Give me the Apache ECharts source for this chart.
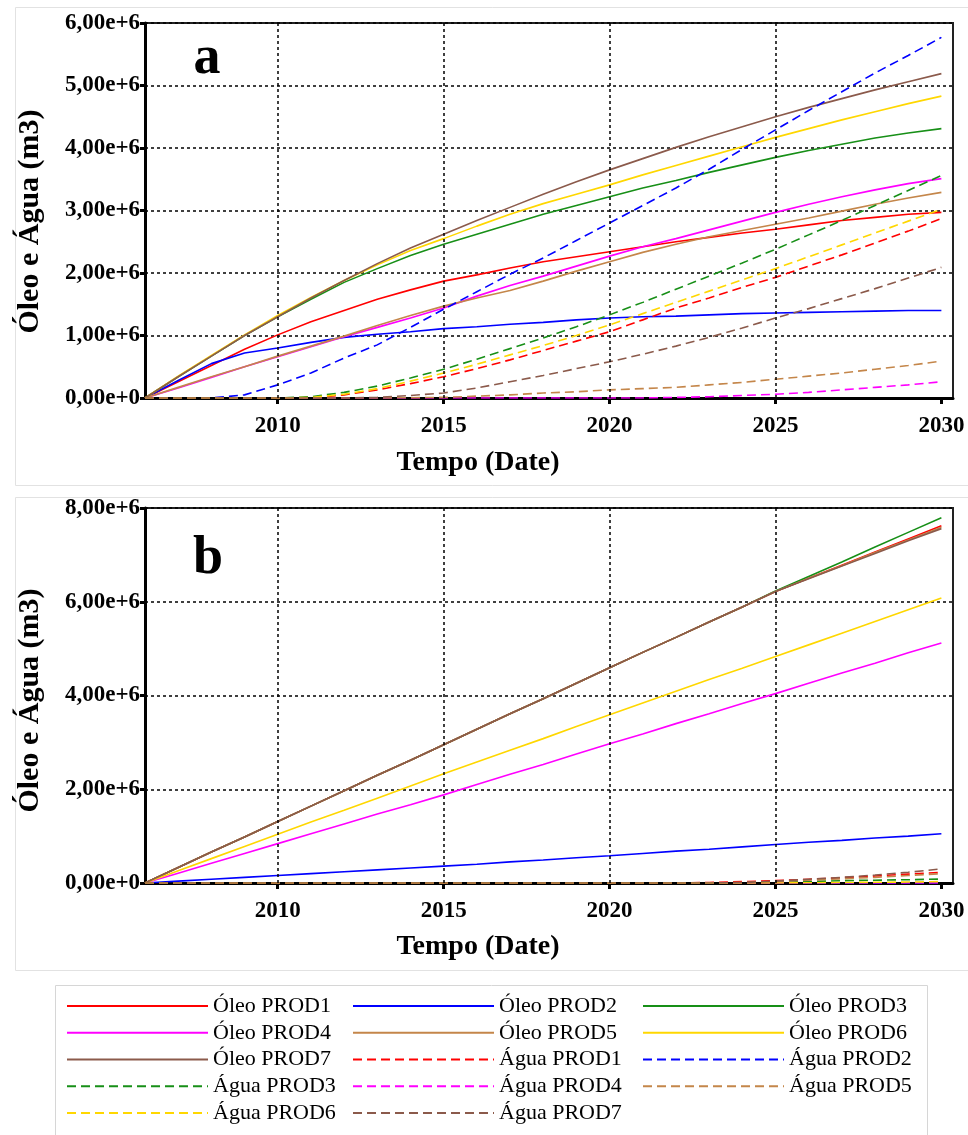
<!DOCTYPE html>
<html><head><meta charset="utf-8">
<script src="https://cdn.jsdelivr.net/npm/echarts@6/dist/echarts.min.js"></script>
<style>html,body{margin:0;padding:0;background:#fff}#c{width:968px;height:1135px}</style>
</head><body><div id="c"></div>
<script>
// ---- data (values in millions of m3) ----
const years = [2006,2007,2008,2009,2010,2011,2012,2013,2014,2015,2016,2017,2018,2019,2020,2021,2022,2023,2024,2025,2026,2027,2028,2029,2030];
const xTickValues = [2010,2015,2020,2025,2030];
const xGridValues = [2010,2015,2020,2025];
const names = ['Óleo PROD1','Óleo PROD2','Óleo PROD3','Óleo PROD4','Óleo PROD5','Óleo PROD6','Óleo PROD7',
               'Água PROD1','Água PROD2','Água PROD3','Água PROD4','Água PROD5','Água PROD6','Água PROD7'];
const colors = ['#ff0000','#0000ff','#178f17','#ff00ff','#c4864a','#ffd700','#8b5a4b'];

// Panel a
const oleoA1 = [0,0.26,0.52,0.78,1.01,1.22,1.40,1.58,1.73,1.87,1.97,2.08,2.18,2.26,2.34,2.42,2.50,2.57,2.64,2.70,2.77,2.84,2.89,2.94,2.97];
const oleoA2 = [0,0.28,0.55,0.72,0.80,0.89,0.97,1.02,1.06,1.11,1.14,1.18,1.21,1.25,1.28,1.30,1.31,1.33,1.35,1.36,1.37,1.38,1.39,1.40,1.40];
const oleoA3 = [0,0.34,0.67,1.00,1.30,1.58,1.85,2.07,2.28,2.46,2.62,2.78,2.94,3.08,3.22,3.36,3.48,3.61,3.73,3.85,3.96,4.06,4.16,4.24,4.31];
const oleoA4 = [0,0.16,0.33,0.50,0.66,0.82,0.98,1.13,1.28,1.44,1.63,1.80,1.95,2.11,2.27,2.42,2.55,2.69,2.83,2.97,3.10,3.22,3.33,3.43,3.51];
const oleoA5 = [0,0.17,0.34,0.50,0.67,0.83,0.99,1.16,1.32,1.47,1.60,1.72,1.87,2.03,2.18,2.33,2.46,2.58,2.68,2.78,2.88,2.99,3.10,3.20,3.29];
const oleoA6 = [0,0.35,0.68,1.01,1.32,1.61,1.88,2.13,2.36,2.55,2.75,2.94,3.11,3.26,3.41,3.57,3.72,3.87,4.02,4.17,4.31,4.45,4.58,4.71,4.83];
const oleoA7 = [0,0.34,0.67,1.00,1.30,1.60,1.88,2.15,2.40,2.62,2.84,3.05,3.26,3.46,3.65,3.83,4.01,4.18,4.34,4.50,4.65,4.79,4.93,5.06,5.19];
const aguaA1 = [0,0,0,0,0,0,0.05,0.13,0.23,0.34,0.47,0.61,0.76,0.91,1.06,1.25,1.44,1.60,1.77,1.93,2.11,2.29,2.48,2.67,2.87];
const aguaA2 = [0,0,0,0.05,0.21,0.40,0.64,0.85,1.13,1.42,1.70,1.98,2.24,2.52,2.80,3.08,3.36,3.66,3.98,4.29,4.60,4.90,5.20,5.48,5.77];
const aguaA3 = [0,0,0,0,0,0.02,0.09,0.19,0.32,0.46,0.62,0.79,0.96,1.14,1.33,1.53,1.74,1.95,2.16,2.38,2.61,2.84,3.08,3.32,3.56];
const aguaA4 = [0,0,0,0,0,0,0,0,0,0,0,0,0,0,0,0,0.01,0.02,0.04,0.06,0.09,0.13,0.17,0.21,0.26];
const aguaA5 = [0,0,0,0,0,0,0,0,0.005,0.01,0.03,0.05,0.08,0.10,0.13,0.15,0.17,0.21,0.25,0.30,0.35,0.40,0.46,0.52,0.59];
const aguaA6 = [0,0,0,0,0,0.01,0.06,0.15,0.27,0.40,0.54,0.69,0.84,1.00,1.17,1.35,1.53,1.71,1.89,2.07,2.26,2.45,2.64,2.83,3.02];
const aguaA7 = [0,0,0,0,0,0,0,0.01,0.04,0.08,0.16,0.26,0.36,0.47,0.58,0.70,0.83,0.97,1.12,1.28,1.43,1.59,1.75,1.92,2.09];

// Panel b
const oleoB1 = [0,0.33,0.66,0.98,1.31,1.64,1.97,2.30,2.62,2.95,3.28,3.61,3.93,4.26,4.59,4.92,5.24,5.57,5.89,6.22,6.50,6.78,7.06,7.34,7.62];
const oleoB2 = [0,0.04,0.08,0.12,0.16,0.20,0.24,0.28,0.32,0.36,0.40,0.45,0.49,0.54,0.58,0.63,0.68,0.72,0.77,0.82,0.87,0.91,0.96,1.00,1.05];
const oleoB3 = [0,0.33,0.66,0.98,1.31,1.64,1.97,2.30,2.62,2.95,3.28,3.61,3.93,4.26,4.59,4.92,5.24,5.57,5.89,6.23,6.54,6.85,7.17,7.48,7.79];
const oleoB4 = [0,0.21,0.42,0.63,0.84,1.05,1.26,1.47,1.67,1.88,2.10,2.32,2.53,2.75,2.97,3.18,3.40,3.61,3.83,4.04,4.26,4.48,4.69,4.91,5.12];
const oleoB5 = [0,0.33,0.66,0.98,1.31,1.64,1.97,2.30,2.62,2.95,3.28,3.61,3.93,4.26,4.59,4.92,5.24,5.57,5.89,6.22,6.50,6.77,7.05,7.32,7.59];
const oleoB6 = [0,0.26,0.52,0.78,1.04,1.30,1.55,1.81,2.07,2.33,2.58,2.83,3.08,3.34,3.59,3.84,4.09,4.34,4.58,4.83,5.08,5.33,5.58,5.83,6.08];
const oleoB7 = [0,0.33,0.66,0.98,1.31,1.64,1.97,2.30,2.62,2.95,3.28,3.61,3.93,4.26,4.59,4.92,5.24,5.57,5.89,6.22,6.49,6.76,7.03,7.30,7.56];
const aguaB1 = [0,0,0,0,0,0,0,0,0,0,0,0,0,0,0,0,0,0.01,0.03,0.05,0.08,0.11,0.15,0.19,0.23];
const aguaB2 = [0,0,0,0,0,0,0,0,0,0,0,0,0,0,0,0,0,0,0,0,0,0,0,0,0];
const aguaB3 = [0,0,0,0,0,0,0,0,0,0,0,0,0,0,0,0,0,0,0,0.01,0.03,0.05,0.06,0.07,0.085];
const aguaB4 = [0,0,0,0,0,0,0,0,0,0,0,0,0,0,0,0,0,0,0,0,0,0,0,0,0];
const aguaB5 = [0,0,0,0,0,0,0,0,0,0,0,0,0,0,0,0,0,0,0.01,0.03,0.06,0.09,0.12,0.16,0.20];
const aguaB6 = [0,0,0,0,0,0,0,0,0,0,0,0,0,0,0,0,0,0,0,0,0.005,0.01,0.015,0.02,0.03];
const aguaB7 = [0,0,0,0,0,0,0,0,0,0,0,0,0,0,0,0,0,0,0.01,0.04,0.08,0.12,0.17,0.23,0.30];

const panelA = [oleoA1,oleoA2,oleoA3,oleoA4,oleoA5,oleoA6,oleoA7,aguaA1,aguaA2,aguaA3,aguaA4,aguaA5,aguaA6,aguaA7];
const panelB = [oleoB1,oleoB2,oleoB3,oleoB4,oleoB5,oleoB6,oleoB7,aguaB1,aguaB2,aguaB3,aguaB4,aguaB5,aguaB6,aguaB7];
const UNIT = 1e6;

// ---- styles ----
const SERIF = '"Liberation Serif", "Times New Roman", serif';
const gridStyle = {type:[3,3], color:'#000', width:1.5};
function yFmt(v){ return v === 0 ? '0,00e+0' : (v/UNIT).toFixed(2).replace('.', ',') + 'e+6'; }

function makeSeries(panel, gi){
  return panel.map((arr, k) => {
    const s = {
      type:'line', name: names[k], xAxisIndex: gi, yAxisIndex: gi,
      data: years.map((y,i) => [y, arr[i]*UNIT]),
      symbol:'none', showSymbol:false, silent:true, animation:false,
      color: colors[k % 7],
      lineStyle:{color: colors[k % 7], width:1.6, type: k >= 7 ? [9,5] : 'solid'},
      z: k >= 7 ? 4 : 3
    };
    if (k === 0) {
      s.markLine = {silent:true, symbol:['none','none'], label:{show:false}, animation:false,
        lineStyle: gridStyle, data: xGridValues.map(v => ({xAxis: v}))};
    }
    return s;
  });
}

function xAxisDef(gi, gap){
  return {
    type:'value', gridIndex: gi, min:2006, max:2030.35,
    axisLine:{show:true, onZero:false, lineStyle:{color:'#000', width:3}},
    axisTick:{show:true, customValues: xTickValues, length:6, lineStyle:{color:'#000', width:3}},
    axisLabel:{customValues: xTickValues, formatter: v => String(v), fontFamily: SERIF, fontSize:23, fontWeight:'bold', color:'#000', margin:17},
    splitLine:{show:false},
    name:'Tempo (Date)', nameLocation:'middle', nameGap: gap,
    nameTextStyle:{fontFamily: SERIF, fontSize:28, fontWeight:'bold', color:'#000', padding:[0,142,0,0]}
  };
}
function yAxisDef(gi, max, shiftPad){
  return {
    type:'value', gridIndex: gi, min:0, max: max, interval: gi === 0 ? 1e6 : 2e6,
    axisLine:{show:true, lineStyle:{color:'#000', width:3}},
    axisTick:{show:true, length:5, lineStyle:{color:'#000', width:3}},
    axisLabel:{formatter: yFmt, fontFamily: SERIF, fontSize:23, fontWeight:'bold', color:'#000', margin:5},
    splitLine:{show:true, lineStyle: gridStyle},
    name:'Óleo e Água (m3)', nameLocation:'middle', nameGap:100,
    nameTextStyle:{fontFamily: SERIF, fontSize:30, fontWeight:'bold', color:'#000', padding:[0,shiftPad,0,0]}
  };
}

const legendText = {fontFamily: SERIF, fontSize:22, color:'#000', lineHeight:22};
function legendDef(data, left){
  return {data, left, top:995, orient:'vertical', itemWidth:141, itemHeight:20, itemGap:4.75,
    padding:0, selectedMode:false, textStyle: legendText, itemStyle:{opacity:0}};
}

const chart = echarts.init(document.getElementById('c'), null, {renderer:'canvas'});
chart.setOption({
  animation:false,
  backgroundColor:'#fff',
  grid:[
    {left:145, top:23, width:808, height:375, show:true, borderColor:'#222', borderWidth:2},
    {left:145, top:508, width:808, height:375, show:true, borderColor:'#222', borderWidth:2}
  ],
  xAxis:[xAxisDef(0, 51), xAxisDef(1, 50)],
  yAxis:[yAxisDef(0, 6e6, 22), yAxisDef(1, 8e6, 10)],
  legend:[
    legendDef(['Óleo PROD1','Óleo PROD4','Óleo PROD7','Água PROD3','Água PROD6'], 66),
    legendDef(['Óleo PROD2','Óleo PROD5','Água PROD1','Água PROD4','Água PROD7'], 352),
    legendDef(['Óleo PROD3','Óleo PROD6','Água PROD2','Água PROD5'], 642)
  ],
  graphic:[
    {type:'rect', shape:{x:15.5, y:7.5, width:960, height:478}, style:{fill:'none', stroke:'#e2e2e2', lineWidth:1}, silent:true, z:-10},
    {type:'rect', shape:{x:15.5, y:497.5, width:960, height:473}, style:{fill:'none', stroke:'#e2e2e2', lineWidth:1}, silent:true, z:-10},
    {type:'rect', shape:{x:55.5, y:985.5, width:872, height:160}, style:{fill:'none', stroke:'#d6d6d6', lineWidth:1}, silent:true, z:-10},
    {type:'text', x:207, y:59, style:{text:'a', font:'bold 54px ' + SERIF, fill:'#000', align:'center', verticalAlign:'middle'}, silent:true, z:10},
    {type:'text', x:208, y:559, style:{text:'b', font:'bold 54px ' + SERIF, fill:'#000', align:'center', verticalAlign:'middle'}, silent:true, z:10}
  ],
  series: makeSeries(panelA, 0).concat(makeSeries(panelB, 1))
});
</script>
</body></html>
